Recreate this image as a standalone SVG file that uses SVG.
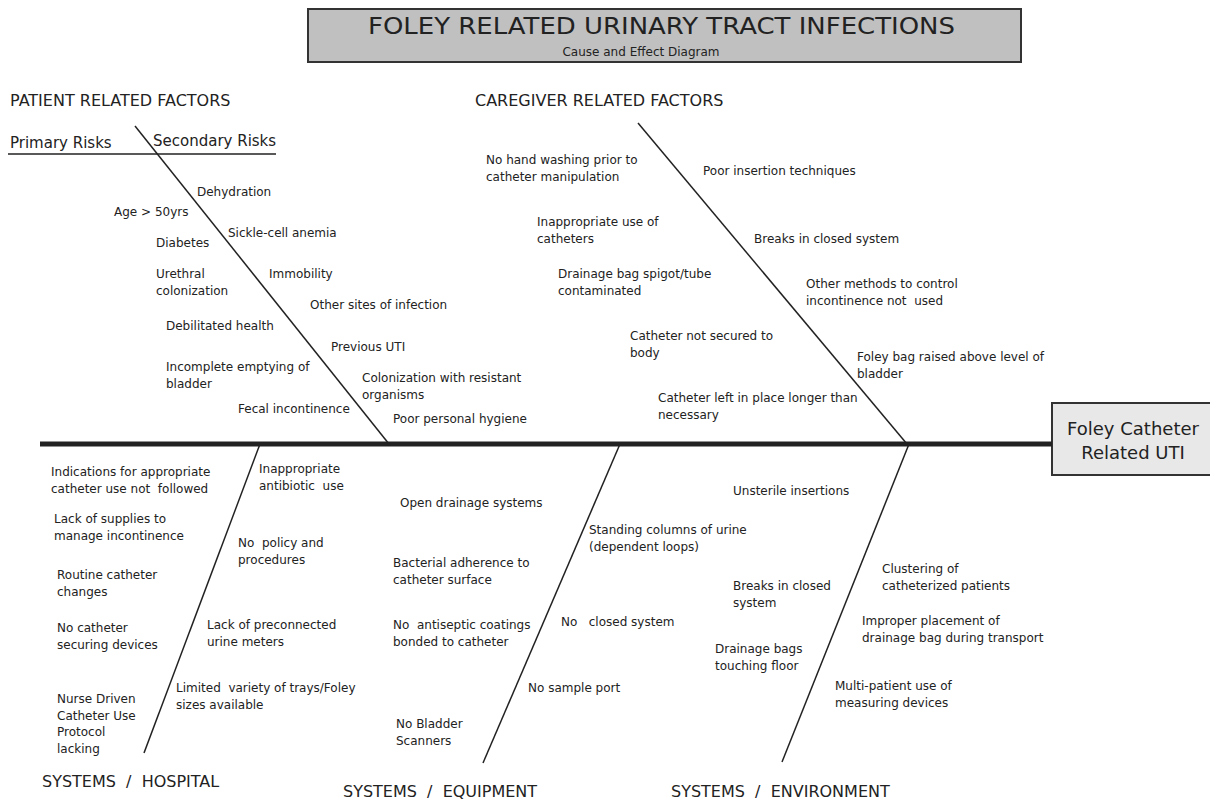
<svg xmlns="http://www.w3.org/2000/svg" width="1210" height="800" viewBox="0 0 1210 800">
<style>
text{font-family:"DejaVu Sans","Liberation Sans",sans-serif;fill:#222;}
.t{font-size:12px;}
.h{font-size:16px;}
.r{font-size:15px;}
.title{font-size:23px;}
.sub{font-size:12px;}
.eff{font-size:18px;}
.spine{stroke:#222;stroke-width:1.5;fill:none;}
.main{stroke:#222;stroke-width:5;fill:none;}
.box{fill:#c0c0c0;stroke:#333;stroke-width:2;}
.ebox{fill:#e8e8e8;stroke:#333;stroke-width:2;}
.ul{stroke:#222;stroke-width:1.5;}
</style>
<g id="title">
<rect class="box" x="308" y="9" width="713" height="53"/>
<text class="title" x="368" y="34" textLength="587" lengthAdjust="spacingAndGlyphs">FOLEY RELATED URINARY TRACT INFECTIONS</text>
<text class="sub" x="641" y="56" text-anchor="middle">Cause and Effect Diagram</text>
</g>
<g id="effect">
<rect class="ebox" x="1052" y="403" width="160" height="72"/>
<text class="eff" x="1133" y="435" text-anchor="middle">Foley Catheter</text>
<text class="eff" x="1133" y="459" text-anchor="middle">Related UTI</text>
</g>
<g id="connectors">
<line class="main" x1="40" y1="444" x2="1052" y2="444"/>
<line class="spine" x1="135" y1="126" x2="389" y2="444"/>
<line class="spine" x1="638" y1="123" x2="907" y2="444"/>
<line class="spine" x1="260" y1="444" x2="144" y2="753"/>
<line class="spine" x1="620" y1="444" x2="483" y2="763"/>
<line class="spine" x1="909" y1="444" x2="782" y2="762"/>
<line class="ul" x1="8" y1="154" x2="276" y2="154"/>
</g>
<g id="patient">
<text class="h" x="10" y="106">PATIENT RELATED FACTORS</text>
<text class="r" x="10" y="148">Primary Risks</text>
<text class="r" x="153" y="146">Secondary Risks</text>
<g id="p-dehydration"><text class="t" x="197" y="196">Dehydration</text></g>
<g id="p-age"><text class="t" x="114" y="216">Age &gt; 50yrs</text></g>
<g id="p-sickle"><text class="t" x="228" y="237">Sickle-cell anemia</text></g>
<g id="p-diabetes"><text class="t" x="156" y="247">Diabetes</text></g>
<g id="p-urethral"><text class="t" x="156" y="278">Urethral</text><text class="t" x="156" y="295">colonization</text></g>
<g id="p-immobility"><text class="t" x="269" y="278">Immobility</text></g>
<g id="p-othersites"><text class="t" x="310" y="309">Other sites of infection</text></g>
<g id="p-debilitated"><text class="t" x="166" y="330">Debilitated health</text></g>
<g id="p-prevuti"><text class="t" x="331" y="351">Previous UTI</text></g>
<g id="p-incomplete"><text class="t" x="166" y="371">Incomplete emptying of</text><text class="t" x="166" y="388">bladder</text></g>
<g id="p-colonization"><text class="t" x="362" y="382">Colonization with resistant</text><text class="t" x="362" y="399">organisms</text></g>
<g id="p-fecal"><text class="t" x="238" y="413">Fecal incontinence</text></g>
<g id="p-hygiene"><text class="t" x="393" y="423">Poor personal hygiene</text></g>
</g>
<g id="caregiver">
<text class="h" x="475" y="106">CAREGIVER RELATED FACTORS</text>
<g id="c-handwash"><text class="t" x="486" y="164">No hand washing prior to</text><text class="t" x="486" y="181">catheter manipulation</text></g>
<g id="c-insertion"><text class="t" x="703" y="175">Poor insertion techniques</text></g>
<g id="c-inapp"><text class="t" x="537" y="226">Inappropriate use of</text><text class="t" x="537" y="243">catheters</text></g>
<g id="c-breaks"><text class="t" x="754" y="243">Breaks in closed system</text></g>
<g id="c-spigot"><text class="t" x="558" y="278">Drainage bag spigot/tube</text><text class="t" x="558" y="295">contaminated</text></g>
<g id="c-methods"><text class="t" x="806" y="288">Other methods to control</text><text class="t" x="806" y="305" xml:space="preserve">incontinence not  used</text></g>
<g id="c-secured"><text class="t" x="630" y="340">Catheter not secured to</text><text class="t" x="630" y="357">body</text></g>
<g id="c-raised"><text class="t" x="857" y="361">Foley bag raised above level of</text><text class="t" x="857" y="378">bladder</text></g>
<g id="c-left"><text class="t" x="658" y="402">Catheter left in place longer than</text><text class="t" x="658" y="419">necessary</text></g>
</g>
<g id="hospital">
<g id="h-indications"><text class="t" x="51" y="476">Indications for appropriate</text><text class="t" x="51" y="493" xml:space="preserve">catheter use not  followed</text></g>
<g id="h-antibiotic"><text class="t" x="259" y="473">Inappropriate</text><text class="t" x="259" y="490" xml:space="preserve">antibiotic  use</text></g>
<g id="h-supplies"><text class="t" x="54" y="523">Lack of supplies to</text><text class="t" x="54" y="540">manage incontinence</text></g>
<g id="h-policy"><text class="t" x="238" y="547" xml:space="preserve">No  policy and</text><text class="t" x="238" y="564">procedures</text></g>
<g id="h-routine"><text class="t" x="57" y="579">Routine catheter</text><text class="t" x="57" y="596">changes</text></g>
<g id="h-securing"><text class="t" x="57" y="632">No catheter</text><text class="t" x="57" y="649">securing devices</text></g>
<g id="h-meters"><text class="t" x="207" y="629">Lack of preconnected</text><text class="t" x="207" y="646">urine meters</text></g>
<g id="h-trays"><text class="t" x="176" y="692" xml:space="preserve">Limited  variety of trays/Foley</text><text class="t" x="176" y="709">sizes available</text></g>
<g id="h-nurse"><text class="t" x="57" y="703">Nurse Driven</text><text class="t" x="57" y="720">Catheter Use</text><text class="t" x="57" y="736">Protocol</text><text class="t" x="57" y="753">lacking</text></g>
<text class="h" x="42" y="787" xml:space="preserve">SYSTEMS  /  HOSPITAL</text>
</g>
<g id="equipment">
<g id="e-open"><text class="t" x="400" y="507">Open drainage systems</text></g>
<g id="e-standing"><text class="t" x="589" y="534">Standing columns of urine</text><text class="t" x="589" y="551">(dependent loops)</text></g>
<g id="e-bacterial"><text class="t" x="393" y="567">Bacterial adherence to</text><text class="t" x="393" y="584">catheter surface</text></g>
<g id="e-antiseptic"><text class="t" x="393" y="629" xml:space="preserve">No  antiseptic coatings</text><text class="t" x="393" y="646">bonded to catheter</text></g>
<g id="e-closed"><text class="t" x="561" y="626" xml:space="preserve">No   closed system</text></g>
<g id="e-sample"><text class="t" x="528" y="692">No sample port</text></g>
<g id="e-scanners"><text class="t" x="396" y="728">No Bladder</text><text class="t" x="396" y="745">Scanners</text></g>
<text class="h" x="343" y="797" xml:space="preserve">SYSTEMS  /  EQUIPMENT</text>
</g>
<g id="environment">
<g id="v-unsterile"><text class="t" x="733" y="495">Unsterile insertions</text></g>
<g id="v-breaks"><text class="t" x="733" y="590">Breaks in closed</text><text class="t" x="733" y="607">system</text></g>
<g id="v-clustering"><text class="t" x="882" y="573">Clustering of</text><text class="t" x="882" y="590">catheterized patients</text></g>
<g id="v-improper"><text class="t" x="862" y="625">Improper placement of</text><text class="t" x="862" y="642">drainage bag during transport</text></g>
<g id="v-floor"><text class="t" x="715" y="653">Drainage bags</text><text class="t" x="715" y="670">touching floor</text></g>
<g id="v-multi"><text class="t" x="835" y="690">Multi-patient use of</text><text class="t" x="835" y="707">measuring devices</text></g>
<text class="h" x="671" y="797" xml:space="preserve">SYSTEMS  /  ENVIRONMENT</text>
</g>
</svg>
